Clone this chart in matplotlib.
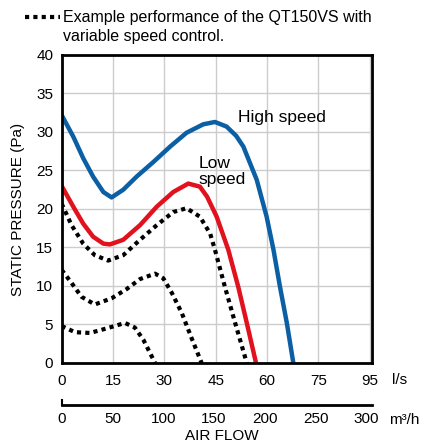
import matplotlib
matplotlib.use("Agg")
import matplotlib.pyplot as plt
from matplotlib.lines import Line2D

plt.rcParams['font.family'] = ['Liberation Sans', 'DejaVu Sans']

# curves (l/s, Pa)
high_x = [0, 3.4, 6.3, 9.2, 12.2, 14.6, 18.0, 21.9, 26.8, 31.7, 36.5, 41.4, 44.8, 48.2, 51.0, 53.1, 57.0, 59.9, 61.9, 63.8, 65.8, 67.7]
high_y = [32.2, 29.4, 26.6, 24.2, 22.2, 21.5, 22.5, 24.2, 26.1, 28.1, 29.9, 31.0, 31.3, 30.7, 29.5, 28.1, 23.8, 19.0, 14.7, 9.9, 5.2, 0]

low_x = [0, 3.4, 6.3, 9.2, 12.2, 14.1, 18.0, 22.9, 27.8, 32.6, 37.0, 40.4, 42.5, 45.3, 48.7, 51.6, 54.1, 56.8]
low_y = [23.0, 20.3, 18.1, 16.4, 15.5, 15.4, 16.0, 17.9, 20.3, 22.2, 23.3, 22.9, 21.6, 19.0, 14.7, 9.9, 5.2, 0]

dot1_x = [0, 2.9, 6.3, 9.7, 13.6, 18.0, 22.9, 27.8, 32.6, 36.5, 40.4, 43.4, 44.8, 47.7, 50.7, 54.1]
dot1_y = [20.7, 17.9, 15.5, 14.0, 13.3, 14.0, 16.0, 17.9, 19.6, 20.1, 19.0, 16.8, 14.7, 9.9, 5.2, 0]

dot2_x = [0, 2.9, 5.8, 9.7, 14.6, 19.0, 22.9, 27.3, 29.7, 32.2, 35.1, 38.0, 40.9]
dot2_y = [12.1, 10.4, 8.6, 7.6, 8.4, 9.6, 10.9, 11.6, 11.0, 9.1, 6.5, 3.2, 0]

dot3_x = [0, 3.9, 8.3, 13.2, 18.5, 21.4, 23.9, 27.3]
dot3_y = [4.8, 4.0, 3.9, 4.5, 5.2, 4.6, 3.0, 0]

ls_ticks = [0, 15, 30, 45, 60, 75, 90]
ls_labels = ['0', '15', '30', '45', '60', '75', '95']
m3h_ticks = [0, 50, 100, 150, 200, 250, 300]
y_ticks = [0, 5, 10, 15, 20, 25, 30, 35, 40]

fs = 11
fig = plt.figure(figsize=(4.25, 4.43), dpi=100)
ax = fig.add_axes([0.145, 0.1806, 0.7296, 0.6953])

dot_style = dict(color='black', lw=3, linestyle=(0, (1, 1)), dash_capstyle='butt')
for xs, ys in [(dot1_x, dot1_y), (dot2_x, dot2_y), (dot3_x, dot3_y)]:
    ax.plot(xs, ys, **dot_style)
ax.plot(low_x, low_y, color='#e1121d', lw=3.2, solid_joinstyle='round')
ax.plot(high_x, high_y, color='#0b5fa5', lw=3.2, solid_joinstyle='round')

ax.set_xlim(0, 90.6)
ax.set_ylim(0, 40)
ax.set_xticks(ls_ticks)
ax.set_xticklabels(ls_labels)
ax.set_yticks(y_ticks)
ax.grid(True, color='#cccccc', lw=1)
ax.set_axisbelow(True)
ax.tick_params(axis='x', length=0, labelsize=fs, pad=8)
ax.tick_params(axis='y', length=0, labelsize=fs, pad=6)
for s in ax.spines.values():
    s.set_linewidth(2)
ax.set_ylabel('STATIC PRESSURE (Pa)', fontsize=fs, labelpad=8)

ax.text(51.5, 31.9, 'High speed', fontsize=12.5, va='center')
ax.text(39.9, 24.9, 'Low\nspeed', fontsize=12.5, va='center', linespacing=1.05)

fig.text(0.922, 0.142, 'l/s', fontsize=fs, va='center')

# second scale in m3/h
ax2 = fig.add_axes([0.145, 0.0858, 0.7296, 0.012])
ax2.set_xlim(0, 305)
ax2.set_ylim(0, 1)
ax2.set_yticks([])
ax2.set_xticks(m3h_ticks)
ax2.tick_params(length=0, labelsize=fs, pad=5)
ax2.spines['top'].set_visible(False)
ax2.spines['right'].set_visible(False)
ax2.spines['bottom'].set_linewidth(2)
ax2.spines['left'].set_linewidth(1.5)
ax2.patch.set_visible(False)
fig.text(0.915, 0.052, 'm³/h', fontsize=fs, va='center')
fig.text(0.522, 0.016, 'AIR FLOW', fontsize=fs, ha='center', va='center')

# legend at top
fig.add_artist(Line2D([0.059, 0.14], [0.9616, 0.9616], transform=fig.transFigure, **dot_style))
fig.text(0.148, 0.9616, 'Example performance of the QT150VS with', fontsize=11.5, va='center')
fig.text(0.148, 0.9165, 'variable speed control.', fontsize=11.5, va='center')

fig.savefig('out.png', dpi=100)
